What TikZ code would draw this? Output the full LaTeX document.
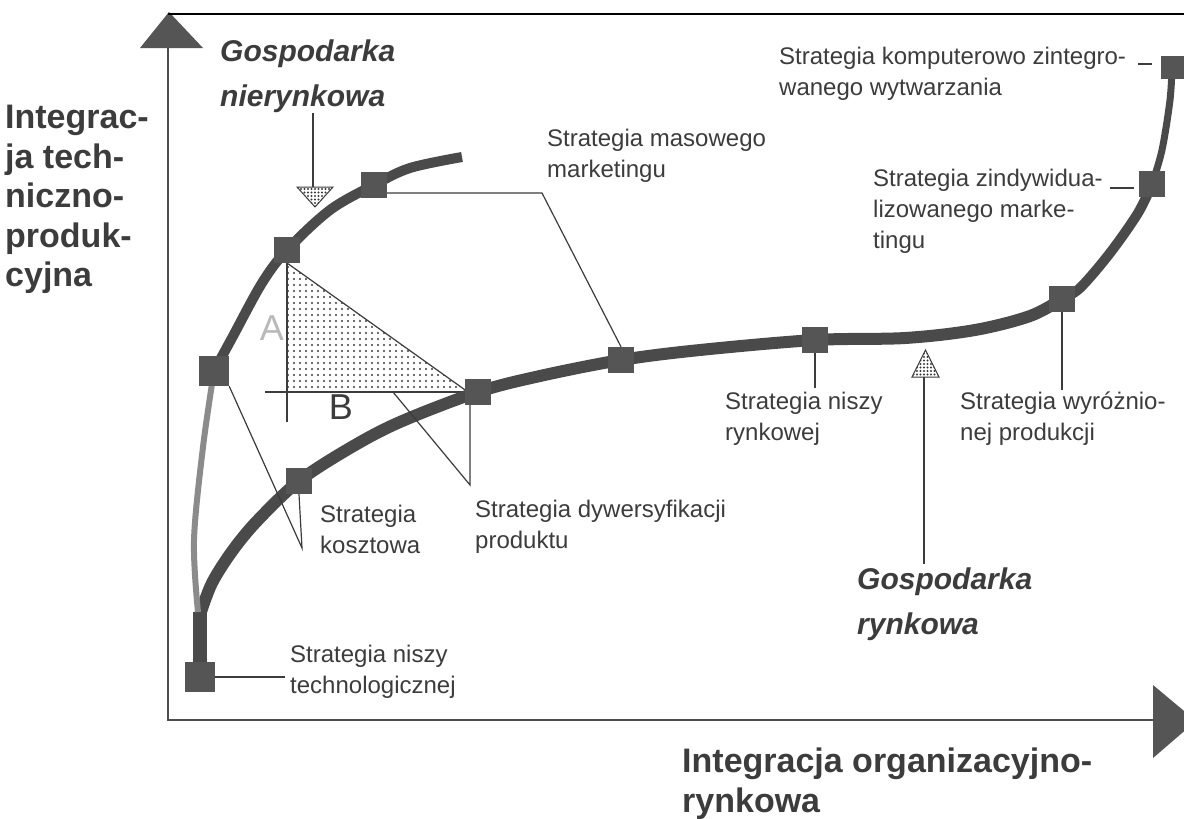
\documentclass[tikz,border=0pt]{standalone}
\usepackage{fontspec}
\setmainfont{Liberation Sans}
\usetikzlibrary{positioning, patterns.meta}
\definecolor{ink}{HTML}{3C3C3C}
\definecolor{sq}{HTML}{555555}
\definecolor{crv}{HTML}{4A4A4A}

\begin{document}
\begin{tikzpicture}[
    x=1pt, y=-1pt,
    font=\fontsize{24}{31}\selectfont,
    strat/.style={
        rectangle, fill=sq, minimum size=26pt, inner sep=0pt
    },
    curve/.style={draw=crv, line width=#1},
    curve/.default=12pt,
    lbl/.style={
        anchor=north west, inner sep=0pt, align=left, text=ink
    },
    axislbl/.style={
        anchor=north west, inner sep=0pt, align=left, text=ink,
        font=\fontsize{34}{39.5}\selectfont\bfseries
    },
    econ/.style={
        anchor=north west, inner sep=0pt, align=left, text=ink,
        font=\fontsize{30}{45}\selectfont\bfseries\itshape
    },
    leader/.style={draw=ink, line width=1.2pt},
    marker/.style={
        draw=ink, line width=1pt,
        pattern={Dots[distance=3.5pt, radius=1.1pt]}, pattern color=ink
    }
]

\useasboundingbox (0,0) rectangle (1184,819);
\fill[white] (0,0) rectangle (1184,819);

% ============ AXES ============
\fill[sq] (140,48) -- (203,48) -- (169,12) -- cycle;
\draw[gray!60!black, line width=2pt] (168,48) -- (168,720) -- (1153,720);
\draw[line width=2pt] (168,14) -- (1184,14);
\fill[sq] (1153,685) -- (1153,758) -- (1196,721) -- cycle;

\node[axislbl] (yLbl) at (5,105)
    {Integrac-\\ja tech-\\niczno-\\produk-\\cyjna};
\node[axislbl] (xLbl) at (682,748)
    {Integracja organizacyjno-\\rynkowa};

% ============ SHADED TRIANGLE (A, B) ============
\fill[pattern={Dots[distance=6pt, radius=1.2pt]}, pattern color=ink]
    (287,263) -- (287,392) -- (468,392) -- cycle;
\draw[leader] (287,263) -- (468,392);
\draw[leader] (287,263) -- (287,422);
\draw[leader] (265,392) -- (470,392);
\node[text=gray!55, font=\fontsize{36}{36}\selectfont] (aLbl) at (272,328) {A};
\node[text=ink, font=\fontsize{36}{36}\selectfont] (bLbl) at (341,407) {B};

% ============ STRATEGY POINTS ============
\coordinate (qNT)   at (200,677);
\coordinate (qK1)   at (214,371);
\coordinate (qK2)   at (299,481);
\coordinate (qNier) at (287,250);
\coordinate (qMas1) at (374,185);
\coordinate (qDyw)  at (478,392);
\coordinate (qMas2) at (621,360);
\coordinate (qNR)   at (815,340);
\coordinate (qWyr)  at (1062,299);
\coordinate (qZind) at (1152,184);
\coordinate (qKomp) at (1172,67);

% ============ CURVES ============
% market economy path
\draw[curve=14pt] (200,668) -- (200,612);
\draw[curve] plot[smooth, tension=0.55] coordinates {
    (200,615) (212,583) (233,550) (258,520) (qK2) (350,448) (400,422)
    (qDyw) (540,376) (qMas2) (700,350) (qNR) (905,338) (975,330)
    (1030,316) (qWyr)};
\draw[curve=10pt] plot[smooth, tension=0.55] coordinates {
    (qWyr) (1080,288) (1110,253) (1138,213) (qZind)};
\draw[curve=7pt] plot[smooth, tension=0.55] coordinates {
    (qZind) (1162,150) (1170,100) (qKomp)};
% non-market economy path
\draw[draw=gray!70!black!70, line width=6pt] plot[smooth, tension=0.55] coordinates {
    (198,612) (194,540) (203,447) (qK1)};
\draw[curve=10pt] plot[smooth, tension=0.55] coordinates {
    (qK1) (232,338) (262,283) (qNier) (330,210) (qMas1) (410,168) (462,157)};

% ============ SQUARES ============
\node[strat, minimum size=30pt] (sNT) at (qNT) {};
\node[strat, minimum size=30pt] (sK1) at (qK1) {};
\node[strat] (sK2)   at (qK2) {};
\node[strat] (sNier) at (qNier) {};
\node[strat] (sMas1) at (qMas1) {};
\node[strat] (sDyw)  at (qDyw) {};
\node[strat] (sMas2) at (qMas2) {};
\node[strat] (sNR)   at (qNR) {};
\node[strat] (sWyr)  at (qWyr) {};
\node[strat] (sZind) at (qZind) {};
\node[strat, minimum size=23pt] (sKomp) at (qKomp) {};

% ============ LABELS ============
\node[lbl] (lblNT)   at (290,645) {Strategia niszy\\technologicznej};
\node[lbl] (lblKosz) at (320,505) {Strategia\\kosztowa};
\node[lbl] (lblDyw)  at (475,500) {Strategia dywersyfikacji\\produktu};
\node[lbl] (lblMas)  at (547,129) {Strategia masowego\\marketingu};
\node[lbl] (lblNR)   at (725,392) {Strategia niszy\\rynkowej};
\node[lbl] (lblWyr)  at (960,392) {Strategia wyróżnio-\\nej produkcji};
\node[lbl] (lblZind) at (873,169) {Strategia zindywidua-\\lizowanego marke-\\tingu};
\node[lbl] (lblKomp) at (779,47) {Strategia komputerowo zintegro-\\wanego wytwarzania};

\node[econ] (lblNier) at (220,40) {Gospodarka\\nierynkowa};
\node[econ] (lblRyn)  at (857,568) {Gospodarka\\rynkowa};

% ============ LEADERS ============
\draw[leader] (sNT.east) -- ([xshift=-5pt]lblNT.west |- sNT.east);

\coordinate (kV) at (302,548);
\draw[leader] (sK1.south east) -- (kV) -- (sK2.south);

\coordinate (dB) at (393,392);
\coordinate (dV) at (470,485);
\draw[leader] (dB) -- (dV) -- (dV |- sDyw.south);

\coordinate (mBend) at (542,193);
\draw[leader] (sMas1.east |- mBend) -- (mBend) -- (sMas2.north);

\draw[leader, shorten >=4pt] (sNR.south) -- (sNR.south |- lblNR.north);
\draw[leader, shorten >=2pt] (sWyr.south) -- (sWyr.south |- lblWyr.north);

\coordinate (zS) at (1110,188);
\draw[leader, shorten >=5pt] (zS) -- (zS -| sZind.west);
\coordinate (kS) at (1138,64);
\draw[leader, shorten >=8pt] (kS) -- (kS -| sKomp.west);

% economy markers
\coordinate (nTri) at (313,187);
\draw[marker] (297,187) -- (333,187) -- (315,207) -- cycle;
\draw[leader] (nTri |- lblNier.south) -- (nTri);

\coordinate (rTri) at (924,377);
\draw[marker] (912,377) -- (939,377) -- (925.5,350) -- cycle;
\draw[leader, shorten >=4pt] (rTri) -- (rTri |- lblRyn.north);

\end{tikzpicture}
\end{document}
